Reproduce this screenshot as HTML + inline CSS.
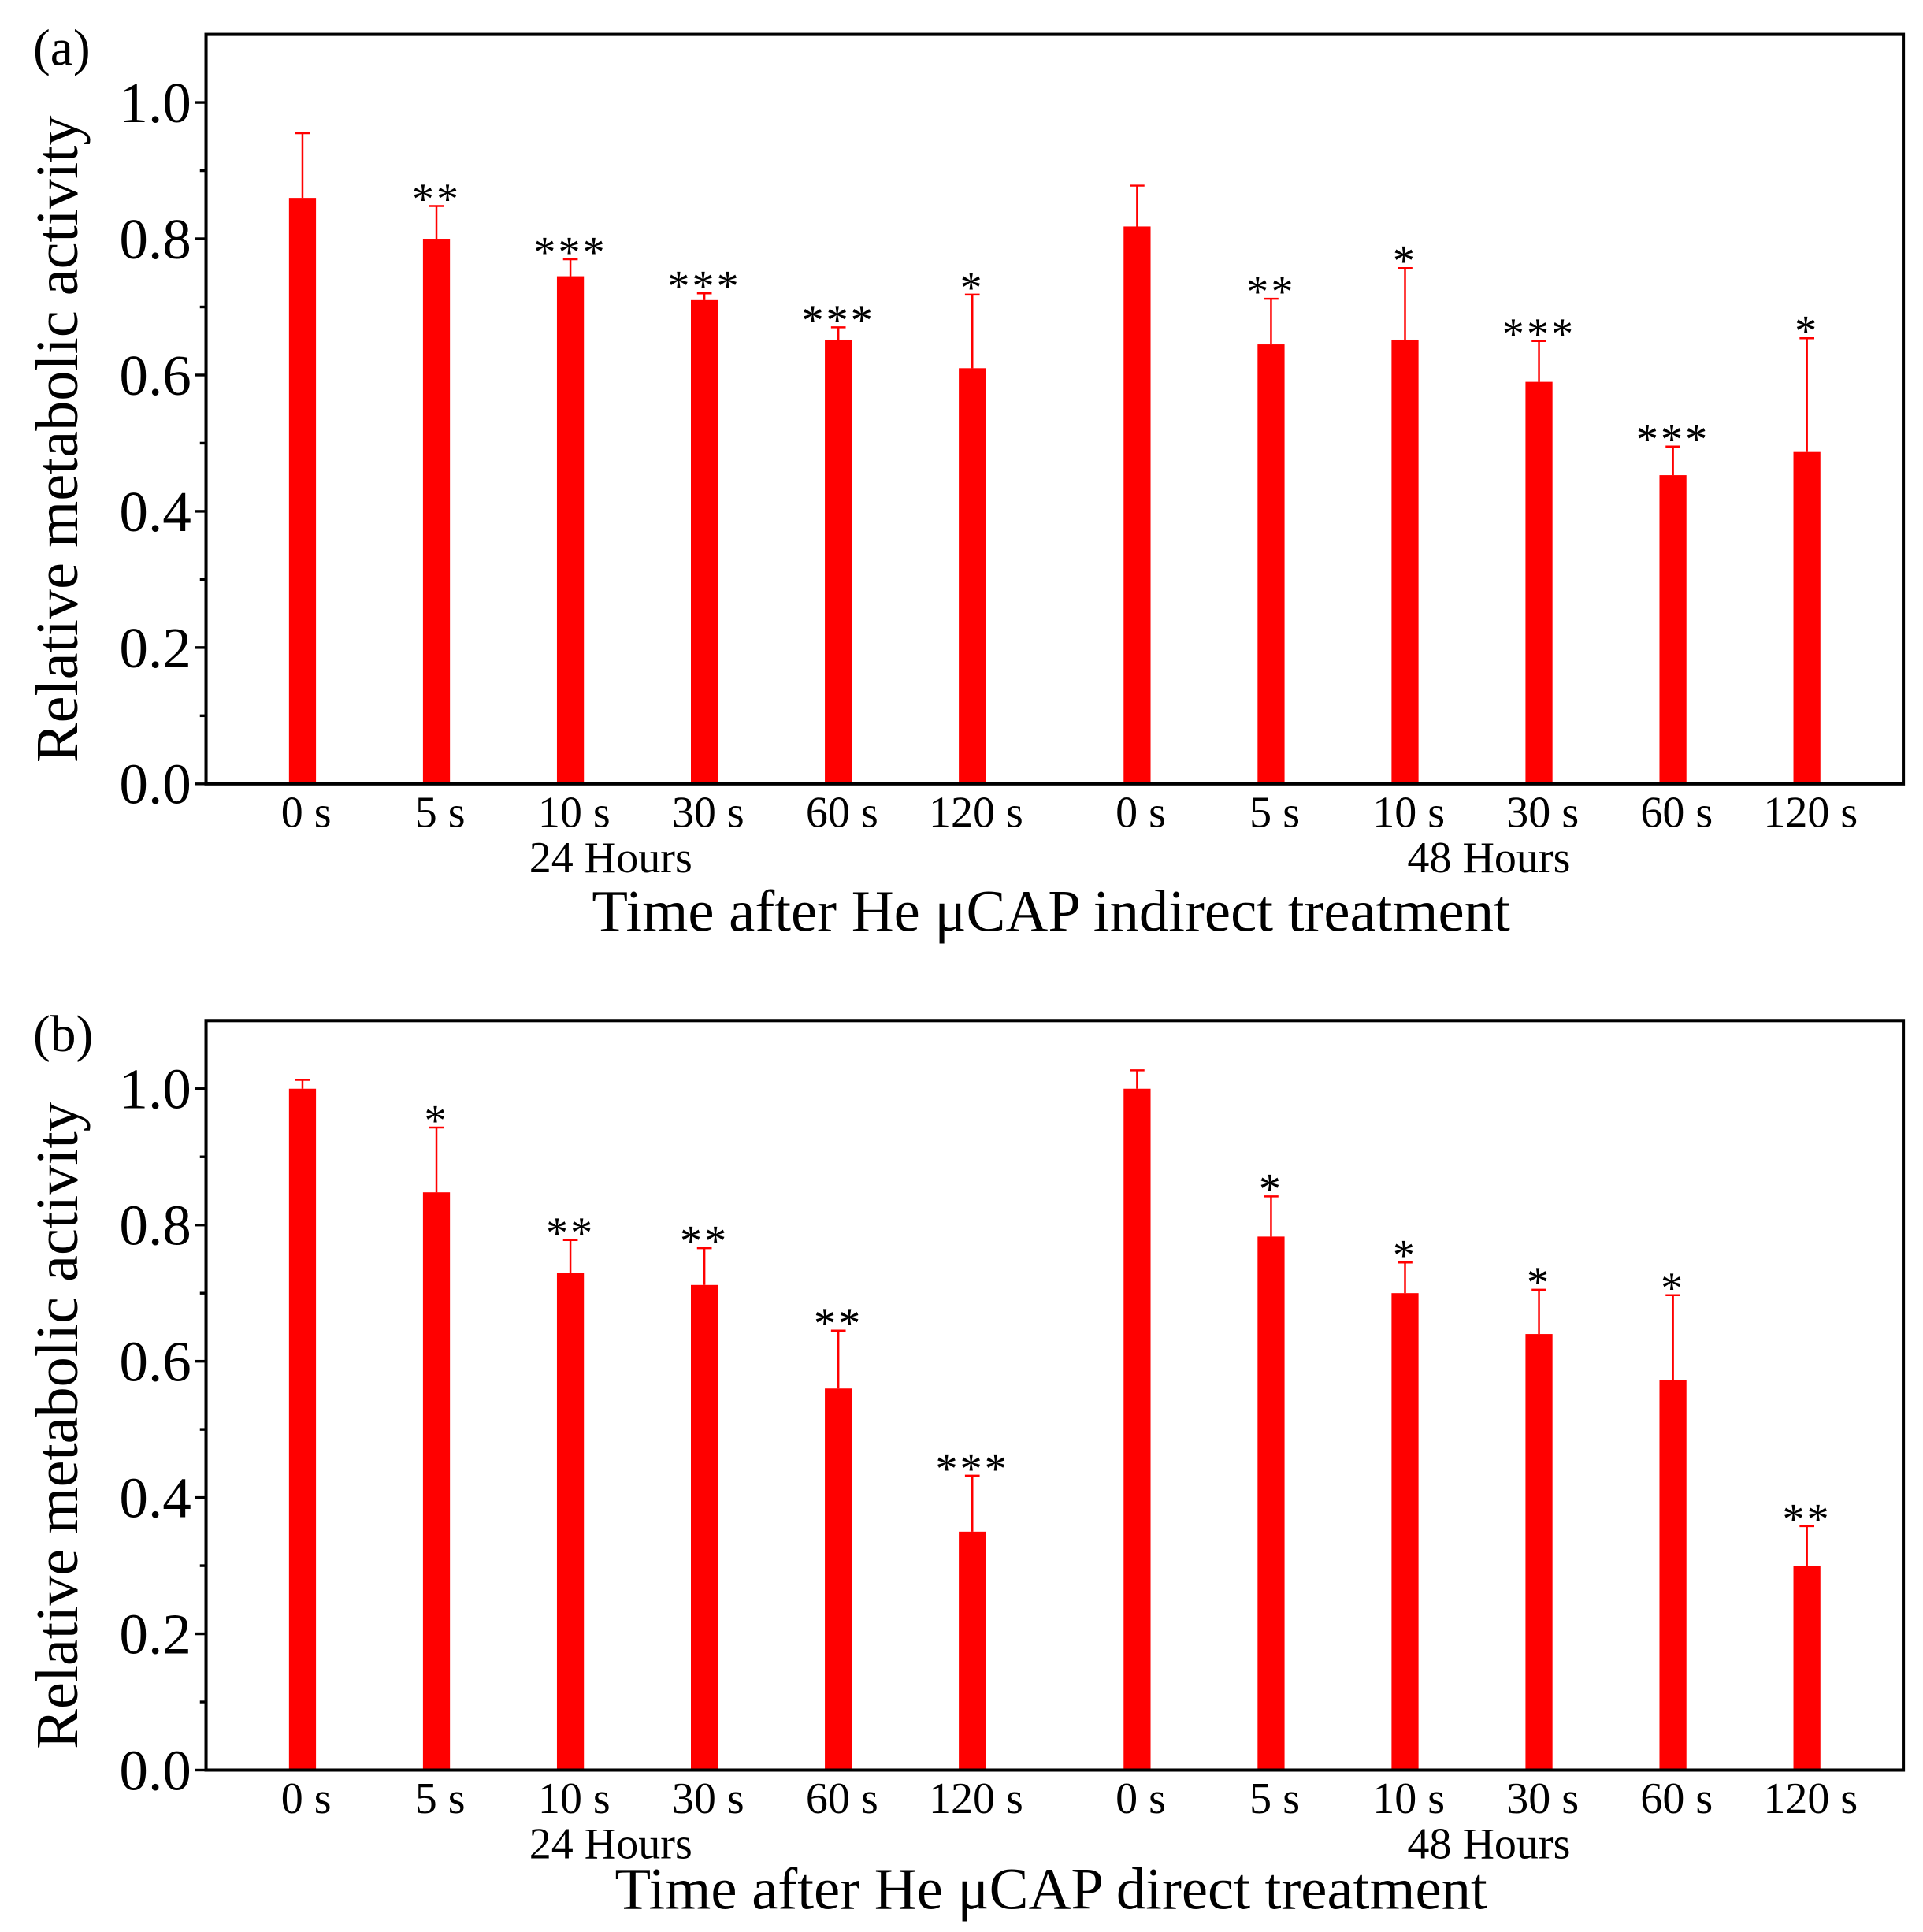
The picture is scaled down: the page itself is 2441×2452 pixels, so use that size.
<!DOCTYPE html>
<html><head><meta charset="utf-8"><style>
html,body{margin:0;padding:0;background:#fff}
svg{display:block}
text{font-family:"Liberation Serif",serif;fill:#000}
</style></head><body>
<svg id="chart" width="2441" height="2452" viewBox="0 0 1568 1575" preserveAspectRatio="none"></svg>
<script>
const categories=["0 s","5 s","10 s","30 s","60 s","120 s","0 s","5 s","10 s","30 s","60 s","120 s"];
const xPos=[1,2,3,4,5,6,7.23,8.23,9.23,10.23,11.23,12.23];
const valuesA=[0.86,0.80,0.745,0.71,0.652,0.61,0.818,0.645,0.652,0.59,0.453,0.487];
const errTopA=[0.955,0.848,0.77,0.72,0.67,0.718,0.878,0.712,0.757,0.65,0.495,0.654];
const starsA=["","**","***","***","***","*","","**","*","***","***","*"];
const valuesB=[1.0,0.848,0.73,0.712,0.56,0.35,1.0,0.783,0.70,0.64,0.573,0.30];
const errTopB=[1.013,0.943,0.778,0.766,0.645,0.432,1.027,0.842,0.745,0.705,0.697,0.358];
const starsB=["","*","**","**","**","***","","*","*","*","*","**"];
const yTicks=["0.0","0.2","0.4","0.6","0.8","1.0"];
const NS="http://www.w3.org/2000/svg";
const svg=document.getElementById('chart');
function mk(tag,attrs,parent){const e=document.createElementNS(NS,tag);for(const k in attrs)e.setAttribute(k,attrs[k]);(parent||svg).appendChild(e);return e;}
function panel(top,vals,errs,stars,label,title,pname){
  const L=168,R=1552,B=top+611;
  const g=mk('g',{});
  
  
  const x=v=>L+(v-0.28)/(12.95-0.28)*(R-L);
  const y=v=>B-v/1.1*(B-top);
  vals.forEach((v,i)=>{
    const cx=x(xPos[i]);
    const eb=mk('path',{d:`M${cx} ${y(v)}V${y(errs[i])}M${cx-6} ${y(errs[i])}H${cx+6}`,stroke:'#ff0000','stroke-width':1.6,fill:'none'},g);
    
    
    const r=mk('rect',{x:cx-11,y:y(v),width:22,height:B-y(v),fill:'#ff0000'},g);
    
    
    if(stars[i]){const t=mk('text',{x:cx,y:y(errs[i])+6,'font-size':36,'text-anchor':'middle','letter-spacing':2},g);t.textContent=stars[i];
      
      }
    const c=mk('text',{x:cx+3,y:B+35,'font-size':36,'text-anchor':'middle'},g);c.textContent=categories[i];
    
    
  });
  const f=mk('rect',{x:L,y:top,width:R-L,height:B-top,fill:'none',stroke:'#000','stroke-width':2.6},g);
  
  
  for(let k=0;k<=10;k++){const v=k*0.1;const yy=y(v);const len=k%2==0?9:5;
    mk('line',{x1:L-len,x2:L,y1:yy,y2:yy,stroke:'#000','stroke-width':2.2},g);}
  yTicks.forEach(t=>{const tt=mk('text',{x:L-12,y:y(parseFloat(t))+16,'font-size':47,'text-anchor':'end'},g);tt.textContent=t;
    
    });
  const h1=mk('text',{x:498,y:B+72,'font-size':36,'text-anchor':'middle'},g);h1.textContent='24 Hours';
  
  
  const h2=mk('text',{x:1214,y:B+72,'font-size':36,'text-anchor':'middle'},g);h2.textContent='48 Hours';
  
  
  const xt=mk('text',{x:857,y:B+(label=='(a)'?120:113),'font-size':48,'text-anchor':'middle'},g);xt.textContent=title;
  
  
  const yt=mk('text',{x:0,y:0,'font-size':49,'text-anchor':'middle',transform:`translate(63,${top+330}) rotate(-90)`},g);yt.textContent='Relative metabolic activity';
  
  
  const pl=mk('text',{x:27,y:top+25,'font-size':42},g);pl.textContent=label;
  
  
}
panel(28,valuesA,errTopA,starsA,'(a)','Time after He \u03bcCAP indirect treatment','panel-a');
panel(832,valuesB,errTopB,starsB,'(b)','Time after He \u03bcCAP direct treatment','panel-b');
</script>
</body></html>
